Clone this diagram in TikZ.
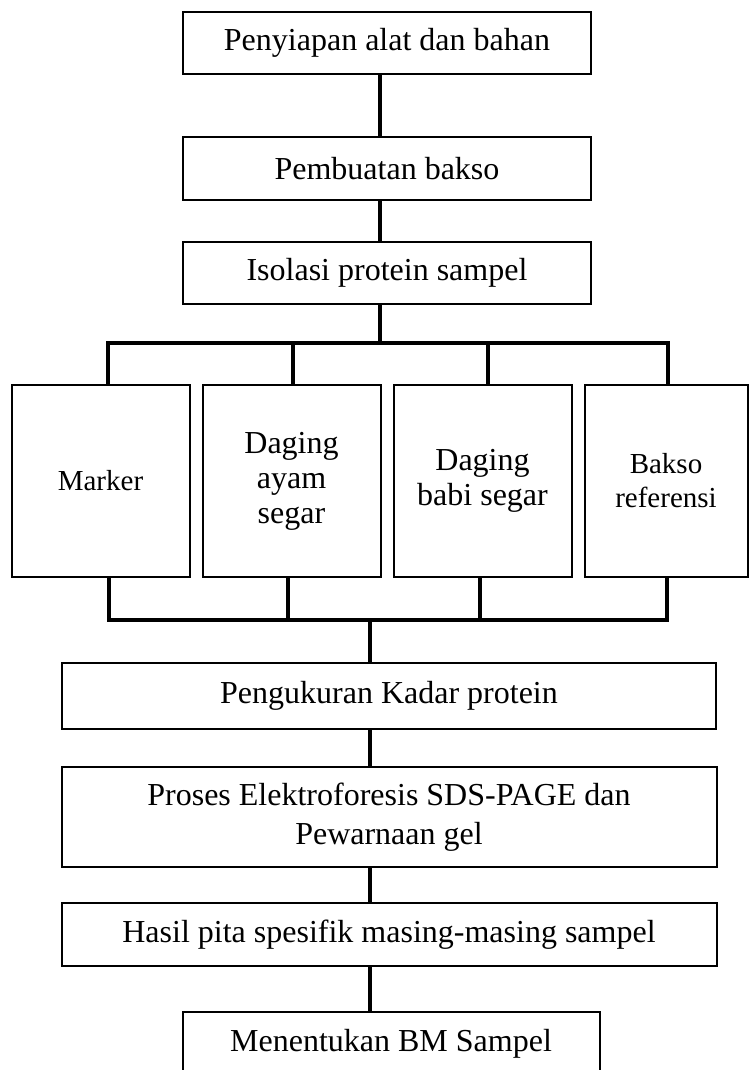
\documentclass[tikz,border=0pt]{standalone}
\usepackage{fontspec}
\setmainfont{Liberation Serif}
\usetikzlibrary{positioning, calc}

\begin{document}
\begin{tikzpicture}[x=0.5pt, y=-0.5pt, node distance=5.5pt,
    stepbox/.style={rectangle, draw, line width=1pt, align=center, inner sep=2pt, font=\fontsize{16}{19.5}\selectfont},
    samplebox/.style={stepbox, minimum width=89pt, minimum height=96pt, font=\fontsize{16}{17.5}\selectfont},
    link/.style={line width=1.7pt}]
  \useasboundingbox (0,0) rectangle (750,1070);

  % Preparation steps
  \node[stepbox, minimum width=204pt, minimum height=31pt] (alat) at (387,43) {Penyiapan alat dan bahan};
  \node[stepbox, minimum width=204pt, minimum height=31.5pt, below=30.5pt of alat] (bakso) {Pembuatan bakso};
  \node[stepbox, minimum width=204pt, minimum height=31pt, below=20pt of bakso] (isolasi) {Isolasi protein sampel};

  % Samples
  \node[samplebox, font=\fontsize{14.5}{17}\selectfont] (marker) at (100.5,481) {Marker};
  \node[samplebox, right=of marker] (ayam) {Daging\\ayam\\segar};
  \node[samplebox, right=of ayam] (babi) {Daging\\babi segar};
  \node[samplebox, minimum width=81.5pt, font=\fontsize{14.5}{17}\selectfont, right=of babi] (referensi) {Bakso\\referensi};

  % Analysis steps
  \node[stepbox, minimum width=327pt, minimum height=33pt] (kadar) at (389,696) {Pengukuran Kadar protein};
  \node[stepbox, minimum width=327.5pt, minimum height=50pt, below=18pt of kadar] (elektro) {Proses Elektroforesis SDS-PAGE dan\\Pewarnaan gel};
  \node[stepbox, minimum width=327.5pt, minimum height=31.5pt, below=17pt of elektro] (pita) {Hasil pita spesifik masing-masing sampel};
  \node[stepbox, minimum width=208.5pt, minimum height=31.5pt, below=22pt of pita, xshift=1pt] (bm) {Menentukan BM Sampel};

  % Trunk and bus points
  \coordinate (trunkA) at (380,343);
  \coordinate (upA) at (108,343);
  \coordinate (upB) at (293,343);
  \coordinate (upC) at (488,343);
  \coordinate (upD) at (668,343);
  \coordinate (trunkB) at (370,620);
  \coordinate (dnA) at (109,620);
  \coordinate (dnB) at (288,620);
  \coordinate (dnC) at (480,620);
  \coordinate (dnD) at (667,620);

  % Links for chain of steps
  \draw[link] (alat.south -| trunkA) -- (bakso.north -| trunkA);
  \draw[link] (bakso.south -| trunkA) -- (isolasi.north -| trunkA);
  \draw[link] (isolasi.south -| trunkA) -- (trunkA);

  % Split to samples
  \draw[link] (upA |- marker.north) -- (upA) -- (upD) -- (upD |- referensi.north);
  \draw[link] (upB) -- (upB |- ayam.north);
  \draw[link] (upC) -- (upC |- babi.north);

  % Join from samples
  \draw[link] (dnA |- marker.south) -- (dnA) -- (dnD) -- (dnD |- referensi.south);
  \draw[link] (dnB |- ayam.south) -- (dnB);
  \draw[link] (dnC |- babi.south) -- (dnC);
  \draw[link] (trunkB) -- (trunkB |- kadar.north);

  % Links for analysis steps
  \draw[link] (kadar.south -| trunkB) -- (elektro.north -| trunkB);
  \draw[link] (elektro.south -| trunkB) -- (pita.north -| trunkB);
  \draw[link] (pita.south -| trunkB) -- (bm.north -| trunkB);
\end{tikzpicture}
\end{document}
